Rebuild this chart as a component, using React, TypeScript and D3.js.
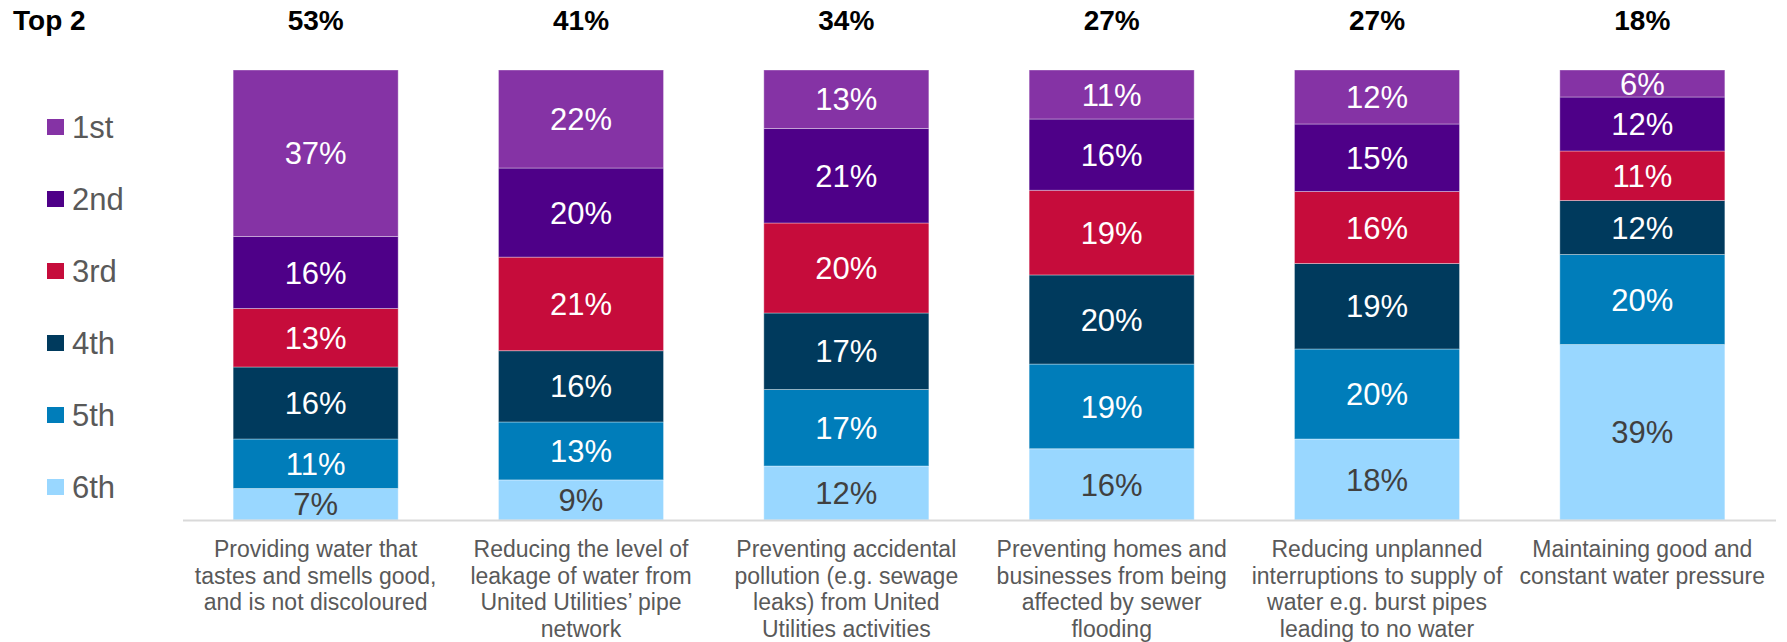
import React from "react";
import * as d3 from "d3";

const categories = [
  "Providing water that tastes and smells good, and is not discoloured",
  "Reducing the level of leakage of water from United Utilities’ pipe network",
  "Preventing accidental pollution (e.g. sewage leaks) from United Utilities activities",
  "Preventing homes and businesses from being affected by sewer flooding",
  "Reducing unplanned interruptions to supply of water e.g. burst pipes leading to no water",
  "Maintaining good and constant water pressure",
];

const categoryLines = [
  ["Providing water that", "tastes and smells good,", "and is not discoloured"],
  ["Reducing the level of", "leakage of water from", "United Utilities’ pipe", "network"],
  ["Preventing accidental", "pollution (e.g. sewage", "leaks) from United", "Utilities activities"],
  ["Preventing homes and", "businesses from being", "affected by sewer", "flooding"],
  ["Reducing unplanned", "interruptions to supply of", "water e.g. burst pipes", "leading to no water"],
  ["Maintaining good and", "constant water pressure"],
];

const seriesNames = ["1st", "2nd", "3rd", "4th", "5th", "6th"];
const first = [37, 22, 13, 11, 12, 6];
const second = [16, 20, 21, 16, 15, 12];
const third = [13, 21, 20, 19, 16, 11];
const fourth = [16, 16, 17, 20, 19, 12];
const fifth = [11, 13, 17, 19, 20, 20];
const sixth = [7, 9, 12, 16, 18, 39];
const top2 = [53, 41, 34, 27, 27, 18];

const colors = ["#8533A5", "#4E0088", "#C60C3B", "#003A5D", "#007DBA", "#99D7FF"];
const labelColors = ["#FFFFFF", "#FFFFFF", "#FFFFFF", "#FFFFFF", "#FFFFFF", "#404040"];

const W = 1787;
const H = 642;
const FONT = "'Liberation Sans', Arial, Helvetica, sans-serif";

export default function App() {
  if (typeof document !== "undefined") document.body.style.margin = "0";

  const seriesValues = [first, second, third, fourth, fifth, sixth];
  const rows = categories.map((c, i) => {
    const r: Record<string, any> = { cat: c };
    seriesNames.forEach((s, k) => (r[s] = seriesValues[k][i]));
    return r;
  });

  const stackKeys = [...seriesNames].reverse();
  const stacked = d3.stack<any>().keys(stackKeys).offset(d3.stackOffsetExpand)(rows);

  const x = d3
    .scaleBand<string>()
    .domain(categories)
    .range([183, 1775])
    .paddingInner(0.378)
    .paddingOuter(0.189);
  const y = d3.scaleLinear().domain([0, 1]).range([520, 70]);

  return (
    <svg width={W} height={H} style={{ display: "block", background: "#fff" }} fontFamily={FONT}>
      <text x={13} y={30} fontSize={28} fontWeight="bold" fill="#000">
        Top 2
      </text>
      {categories.map((c, i) => (
        <text
          key={"t" + i}
          x={(x(c) as number) + x.bandwidth() / 2}
          y={30}
          fontSize={28}
          fontWeight="bold"
          fill="#000"
          textAnchor="middle"
        >
          {top2[i]}%
        </text>
      ))}

      {stacked.map((layer) => {
        const k = seriesNames.indexOf(layer.key);
        return (
          <g key={layer.key}>
            {layer.map((d, i) => {
              const c = categories[i];
              const y0 = y(d[0]);
              const y1 = y(d[1]);
              return (
                <g key={i}>
                  <rect
                    x={x(c)}
                    y={y1}
                    width={x.bandwidth()}
                    height={y0 - y1}
                    fill={colors[k]}
                    stroke="rgba(255,255,255,0.35)"
                    strokeWidth={1}
                  />
                  <text
                    x={(x(c) as number) + x.bandwidth() / 2}
                    y={(y0 + y1) / 2}
                    dy="0.36em"
                    fontSize={31}
                    fill={labelColors[k]}
                    textAnchor="middle"
                  >
                    {seriesValues[k][i]}%
                  </text>
                </g>
              );
            })}
          </g>
        );
      })}

      <line x1={183} x2={1776} y1={520.5} y2={520.5} stroke="#D9D9D9" strokeWidth={2} />

      {categoryLines.map((lines, i) => (
        <text
          key={"c" + i}
          x={(x(categories[i]) as number) + x.bandwidth() / 2}
          y={557}
          fontSize={23}
          fill="#595959"
          textAnchor="middle"
        >
          {lines.map((l, j) => (
            <tspan key={j} x={(x(categories[i]) as number) + x.bandwidth() / 2} dy={j === 0 ? 0 : 26.7}>
              {l}
            </tspan>
          ))}
        </text>
      ))}

      {seriesNames.map((s, k) => {
        const cy = 127 + k * 72;
        return (
          <g key={"l" + s}>
            <rect x={47} y={cy - 8} width={17} height={16} fill={colors[k]} />
            <text x={72} y={cy} dy="0.36em" fontSize={31} fill="#595959">
              {s}
            </text>
          </g>
        );
      })}
    </svg>
  );
}
